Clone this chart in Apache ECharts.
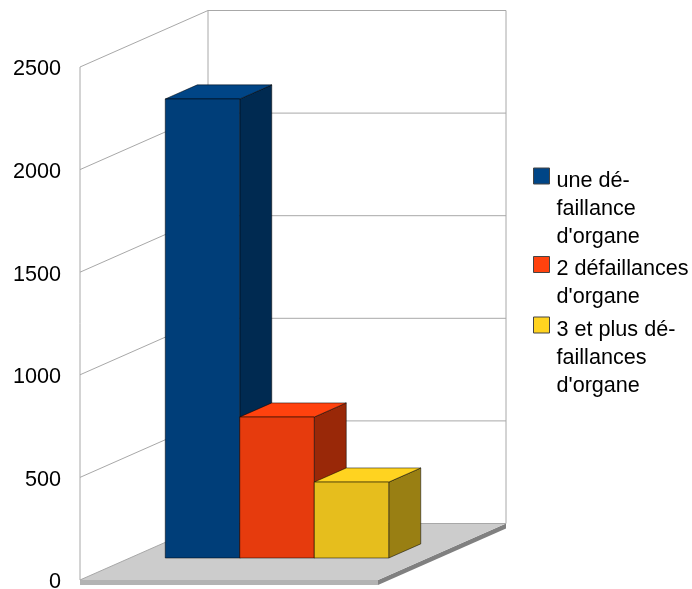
<!DOCTYPE html>
<html>
<head>
<meta charset="utf-8">
<style>html,body{margin:0;padding:0;background:#fff}#chart{width:692px;height:589px}</style>
<script src="https://cdn.jsdelivr.net/npm/echarts@6/dist/echarts.min.js"></script>
</head>
<body>
<div id="chart"></div>
<script>
// Chart data
const categories = [''];
const seriesNames = ["une défaillance d'organe", "2 défaillances d'organe", "3 et plus défaillances d'organe"];
const seriesValues = [[2237], [687], [370]];
const legendLines = [
  ['une dé-', 'faillance', "d'organe"],
  ['2 défaillances', "d'organe"],
  ['3 et plus dé-', 'faillances', "d'organe"]
];
const axisTicks = [0, 500, 1000, 1500, 2000, 2500];

// Face colours per series: top, front, side
const topColors = ['#004586', '#ff420e', '#ffd320'];
const frontColors = ['#003e79', '#e63b0d', '#e6be1d'];
const sideColors = ['#002a51', '#992808', '#997f13'];

// Oblique projection: full depth of the box in pixels, and the slab under it
const DEPTH_X = 128;
const DEPTH_Y = -56.5;
const SLAB = 5;
const BAR_NEAR = 0.375;
const BAR_FAR = 0.625;
const BAR_LIFT = 0.8;
const BAR_SHARE = 0.25;
const FONT = '"Liberation Sans", Arial, sans-serif';
const FONT_SIZE = 21.6;
const WALL = '#a8a8a8';
const EDGE = 'rgba(0,0,0,0.5)';

function shift(p, d) {
  return [p[0] + DEPTH_X * d, p[1] + DEPTH_Y * d];
}

function poly(points, fill, stroke) {
  return {
    type: 'polygon',
    shape: { points: points },
    style: { fill: fill, stroke: stroke || null, lineWidth: stroke ? 1 : 0 }
  };
}

function line(a, b, color) {
  return {
    type: 'line',
    shape: { x1: a[0], y1: a[1], x2: b[0], y2: b[1] },
    style: { stroke: color, lineWidth: 1 }
  };
}

// Walls, gridlines and floor; one data item per axis tick
function renderFrame(params, api) {
  const value = api.value(1);
  const cs = params.coordSys;
  const y = api.coord([0, value])[1];
  const left = [cs.x, y];
  const right = [cs.x + cs.width, y];
  const children = [];
  if (value !== 0) {
    children.push(line(left, shift(left, 1), WALL));
    children.push(line(shift(left, 1), shift(right, 1), WALL));
  }
  if (value === 0) {
    const topY = cs.y;
    children.push(line([cs.x, topY], [cs.x, y], WALL));
    children.push(line(shift([cs.x, topY], 1), shift(left, 1), WALL));
    children.push(line(shift([cs.x + cs.width, topY], 1), shift(right, 1), WALL));
    children.push(poly([
      [left[0], y + SLAB], [right[0], y + SLAB], right, [left[0], y]
    ], '#b3b3b3'));
    children.push(poly([
      right, shift(right, 1),
      [shift(right, 1)[0], shift(right, 1)[1] + SLAB],
      [right[0], y + SLAB]
    ], '#808080'));
    children.push(poly([left, right, shift(right, 1), shift(left, 1)], '#cccccc'));
    children.push(line(left, shift(left, 1), WALL));
    children.push(line(shift(left, 1), shift(right, 1), WALL));
  }
  return { type: 'group', children: children };
}

// One box of the cluster: front, top and side faces
function renderBox(seriesIndex) {
  return function (params, api) {
    const w = api.size([1, 0])[0] * BAR_SHARE;
    const centre = api.coord([api.value(0), api.value(1)]);
    const base = api.coord([api.value(0), 0]);
    const x0 = centre[0] + (seriesIndex - 1.5) * w;
    const x1 = x0 + w;
    const yTop = centre[1] - BAR_LIFT;
    const yBase = base[1] - BAR_LIFT;
    const tl = shift([x0, yTop], BAR_NEAR);
    const tr = shift([x1, yTop], BAR_NEAR);
    const bl = shift([x0, yBase], BAR_NEAR);
    const br = shift([x1, yBase], BAR_NEAR);
    const step = BAR_FAR - BAR_NEAR;
    return {
      type: 'group',
      children: [
        poly([tr, shift(tr, step), shift(br, step), br], sideColors[seriesIndex], EDGE),
        poly([tl, tr, shift(tr, step), shift(tl, step)], topColors[seriesIndex], EDGE),
        poly([tl, tr, br, bl], frontColors[seriesIndex], EDGE)
      ]
    };
  };
}

const frameSeries = {
  type: 'custom',
  name: 'frame',
  silent: true,
  clip: false,
  renderItem: renderFrame,
  encode: { x: 0, y: 1 },
  data: axisTicks.map(function (t) { return [0, t]; })
};

const boxSeries = seriesNames.map(function (name, i) {
  return {
    type: 'custom',
    name: name,
    clip: false,
    renderItem: renderBox(i),
    itemStyle: { color: topColors[i] },
    encode: { x: 0, y: 1 },
    data: seriesValues[i].map(function (v, k) { return [k, v]; })
  };
});

// Each legend entry sits in its own block. Blank lines above the text centre the first
// line on the swatch, and a short spacer line drops it a few pixels further.
const legendIconCentres = [176, 264.5, 325];
const LINE_HEIGHT = 28;
const TEXT_DROP = 10;
const legends = seriesNames.map(function (name, i) {
  const count = legendLines[i].length;
  return {
    show: true,
    left: 533,
    top: legendIconCentres[i] - (2 * count - 1) * LINE_HEIGHT / 2 - TEXT_DROP / 2,
    padding: 0,
    itemWidth: 16,
    itemHeight: 16,
    icon: 'rect',
    selectedMode: false,
    data: [name],
    itemStyle: { borderColor: '#444', borderWidth: 1 },
    textStyle: {
      fontFamily: FONT,
      fontSize: FONT_SIZE,
      color: '#000',
      rich: {
        gap: { fontSize: 1, lineHeight: TEXT_DROP, height: TEXT_DROP },
        blank: { fontFamily: FONT, fontSize: FONT_SIZE, lineHeight: LINE_HEIGHT, height: LINE_HEIGHT },
        t: { fontFamily: FONT, fontSize: FONT_SIZE, color: '#000', lineHeight: LINE_HEIGHT, padding: [0, 0, 0, 2] }
      }
    },
    formatter: function () {
      const spacer = ['{gap| }'];
      for (let k = 0; k < count - 1; k++) spacer.push('{blank| }');
      return spacer.concat(legendLines[i].map(function (s) { return '{t|' + s + '}'; })).join('\n');
    }
  };
});

const chart = echarts.init(document.getElementById('chart'), null, { renderer: 'canvas' });
chart.setOption({
  animation: false,
  backgroundColor: '#fff',
  legend: legends,
  grid: { left: 80, top: 67, width: 298, height: 513, containLabel: false, outerBoundsMode: 'none' },
  xAxis: {
    type: 'category',
    data: categories,
    axisLine: { show: false },
    axisTick: { show: false },
    axisLabel: { show: false },
    splitLine: { show: false }
  },
  yAxis: {
    type: 'value',
    min: 0,
    max: 2500,
    interval: 500,
    axisLine: { show: false },
    axisTick: { show: false },
    splitLine: { show: false },
    axisLabel: {
      margin: 19,
      formatter: function (v) { return '{n|' + v + '}'; },
      rich: {
        n: { color: '#000', fontFamily: FONT, fontSize: FONT_SIZE, padding: [5, 0, 0, 0] }
      }
    }
  },
  series: [frameSeries].concat(boxSeries)
});
</script>
</body>
</html>
